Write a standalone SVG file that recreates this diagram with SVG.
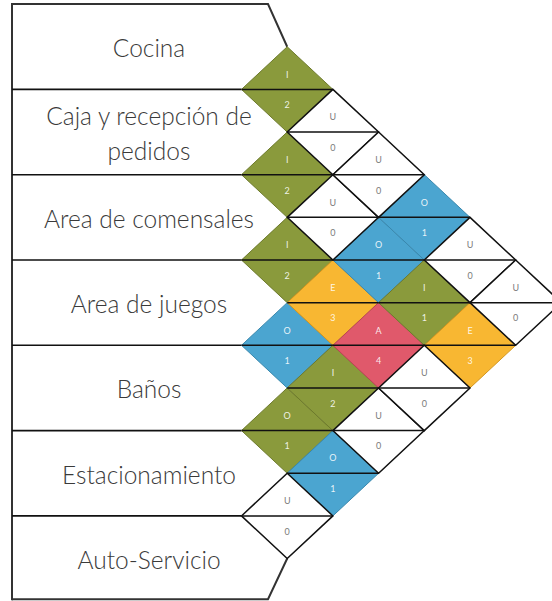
<svg xmlns="http://www.w3.org/2000/svg" width="552" height="601" viewBox="0 0 552 601">
<style>
.bg{fill:#ffffff}
.dept{font-family:Lato,"Open Sans","Liberation Sans",sans-serif;font-size:24.5px;font-weight:300;fill:#3a3a3a;text-anchor:middle}
.out{fill:none;stroke:#333333;stroke-width:2}
.sep{fill:none;stroke:#111111;stroke-width:1.6}
.g{fill:#8a9a3c;stroke:#6d7a2c;stroke-width:1}
.b{fill:#4ba5d0;stroke:#3a88ad;stroke-width:1}
.o{fill:#f8b732;stroke:#d3961e;stroke-width:1}
.r{fill:#e0596b;stroke:#bb4355;stroke-width:1}
.w{fill:#ffffff;stroke:#111111;stroke-width:1.5}
.mid{stroke:#111111;stroke-width:1.5}
.lb{font-family:Lato,"Open Sans","Liberation Sans",sans-serif;font-size:9px;text-anchor:middle}
.lc{fill:#ffffff;fill-opacity:0.88}
.lw{fill:#7a7a7a}
</style>
<defs>
<path id="dm" d="M0,-42.65 L45.7,0 L0,42.65 L-45.7,0 Z"/>
</defs>
<rect class="bg" x="0" y="0" width="552" height="601"/>

<g id="outline">
<path class="out" d="M12,4.1 H268 L287.2,46.75"/>
<path class="out" d="M12,3.1 V600.3"/>
<path class="out" d="M12,599.3 H268 L287.2,558.55"/>
</g>

<g id="dept-cocina"><text class="dept" x="149" y="57.2">Cocina</text></g>
<g id="dept-caja">
<path class="sep" d="M12,89.4 H241.5"/>
<text class="dept" x="149" y="125">Caja y recepción de</text>
<text class="dept" x="149" y="159.5">pedidos</text>
</g>
<g id="dept-comensales">
<path class="sep" d="M12,174.7 H241.5"/>
<text class="dept" x="149" y="227.6">Area de comensales</text>
</g>
<g id="dept-juegos">
<path class="sep" d="M12,260 H241.5"/>
<text class="dept" x="149" y="312.6">Area de juegos</text>
</g>
<g id="dept-banos">
<path class="sep" d="M12,345.3 H241.5"/>
<text class="dept" x="149" y="398.2">Baños</text>
</g>
<g id="dept-estacionamiento">
<path class="sep" d="M12,430.6 H241.5"/>
<text class="dept" x="149" y="483.5">Estacionamiento</text>
</g>
<g id="dept-autoservicio">
<path class="sep" d="M12,515.9 H241.5"/>
<text class="dept" x="149" y="568.6">Auto-Servicio</text>
</g>

<g id="colored-diamonds">
<g id="rel-0-1" transform="translate(287.2,89.4)"><use href="#dm" class="g"/></g>
<g id="rel-1-2" transform="translate(287.2,174.7)"><use href="#dm" class="g"/></g>
<g id="rel-2-3" transform="translate(287.2,260)"><use href="#dm" class="g"/></g>
<g id="rel-3-4" transform="translate(287.2,345.3)"><use href="#dm" class="b"/></g>
<g id="rel-4-5" transform="translate(287.2,430.6)"><use href="#dm" class="g"/></g>
<g id="rel-2-4" transform="translate(332.9,302.65)"><use href="#dm" class="o"/></g>
<g id="rel-3-5" transform="translate(332.9,387.95)"><use href="#dm" class="g"/></g>
<g id="rel-4-6" transform="translate(332.9,473.25)"><use href="#dm" class="b"/></g>
<g id="rel-1-4" transform="translate(378.6,260)"><use href="#dm" class="b"/></g>
<g id="rel-2-5" transform="translate(378.6,345.3)"><use href="#dm" class="r"/></g>
<g id="rel-0-4" transform="translate(424.3,217.35)"><use href="#dm" class="b"/></g>
<g id="rel-1-5" transform="translate(424.3,302.65)"><use href="#dm" class="g"/></g>
<g id="rel-1-6" transform="translate(470,345.3)"><use href="#dm" class="o"/></g>
</g>

<g id="white-diamonds">
<g id="rel-5-6" transform="translate(287.2,515.9)"><use href="#dm" class="w"/></g>
<g id="rel-0-2" transform="translate(332.9,132.05)"><use href="#dm" class="w"/></g>
<g id="rel-1-3" transform="translate(332.9,217.35)"><use href="#dm" class="w"/></g>
<g id="rel-0-3" transform="translate(378.6,174.7)"><use href="#dm" class="w"/></g>
<g id="rel-3-6" transform="translate(378.6,430.6)"><use href="#dm" class="w"/></g>
<g id="rel-2-6" transform="translate(424.3,387.95)"><use href="#dm" class="w"/></g>
<g id="rel-0-5" transform="translate(470,260)"><use href="#dm" class="w"/></g>
<g id="rel-0-6" transform="translate(515.7,302.65)"><use href="#dm" class="w"/></g>
</g>

<g id="split-lines" class="mid">
<path d="M241.5,89.4 H332.9 M241.5,174.7 H332.9 M241.5,260 H332.9 M241.5,345.3 H332.9 M241.5,430.6 H332.9 M241.5,515.9 H332.9"/>
<path d="M287.2,132.05 H378.6 M287.2,217.35 H378.6 M287.2,302.65 H378.6 M287.2,387.95 H378.6 M287.2,473.25 H378.6"/>
<path d="M332.9,174.7 H424.3 M332.9,260 H424.3 M332.9,345.3 H424.3 M332.9,430.6 H424.3"/>
<path d="M378.6,217.35 H470 M378.6,302.65 H470 M378.6,387.95 H470"/>
<path d="M424.3,260 H515.7 M424.3,345.3 H515.7"/>
<path d="M470,302.65 H561.4"/>
</g>

<g id="labels" class="lb">
<text class="lc" x="287.2" y="77.6">I</text><text class="lc" x="287.2" y="108.2">2</text>
<text class="lc" x="287.2" y="162.9">I</text><text class="lc" x="287.2" y="193.5">2</text>
<text class="lc" x="287.2" y="248.2">I</text><text class="lc" x="287.2" y="278.8">2</text>
<text class="lc" x="287.2" y="333.5">O</text><text class="lc" x="287.2" y="364.1">1</text>
<text class="lc" x="287.2" y="418.8">O</text><text class="lc" x="287.2" y="449.4">1</text>
<text class="lw" x="287.2" y="504.1">U</text><text class="lw" x="287.2" y="534.7">0</text>

<text class="lw" x="332.9" y="120.25">U</text><text class="lw" x="332.9" y="150.85">0</text>
<text class="lw" x="332.9" y="205.55">U</text><text class="lw" x="332.9" y="236.15">0</text>
<text class="lc" x="332.9" y="290.85">E</text><text class="lc" x="332.9" y="321.45">3</text>
<text class="lc" x="332.9" y="376.15">I</text><text class="lc" x="332.9" y="406.75">2</text>
<text class="lc" x="332.9" y="461.45">O</text><text class="lc" x="332.9" y="492.05">1</text>

<text class="lw" x="378.6" y="162.9">U</text><text class="lw" x="378.6" y="193.5">0</text>
<text class="lc" x="378.6" y="248.2">O</text><text class="lc" x="378.6" y="278.8">1</text>
<text class="lc" x="378.6" y="333.5">A</text><text class="lc" x="378.6" y="364.1">4</text>
<text class="lw" x="378.6" y="418.8">U</text><text class="lw" x="378.6" y="449.4">0</text>

<text class="lc" x="424.3" y="205.55">O</text><text class="lc" x="424.3" y="236.15">1</text>
<text class="lc" x="424.3" y="290.85">I</text><text class="lc" x="424.3" y="321.45">1</text>
<text class="lw" x="424.3" y="376.15">U</text><text class="lw" x="424.3" y="406.75">0</text>

<text class="lw" x="470" y="248.2">U</text><text class="lw" x="470" y="278.8">0</text>
<text class="lc" x="470" y="333.5">E</text><text class="lc" x="470" y="364.1">3</text>

<text class="lw" x="515.7" y="290.85">U</text><text class="lw" x="515.7" y="321.45">0</text>
</g>
</svg>
